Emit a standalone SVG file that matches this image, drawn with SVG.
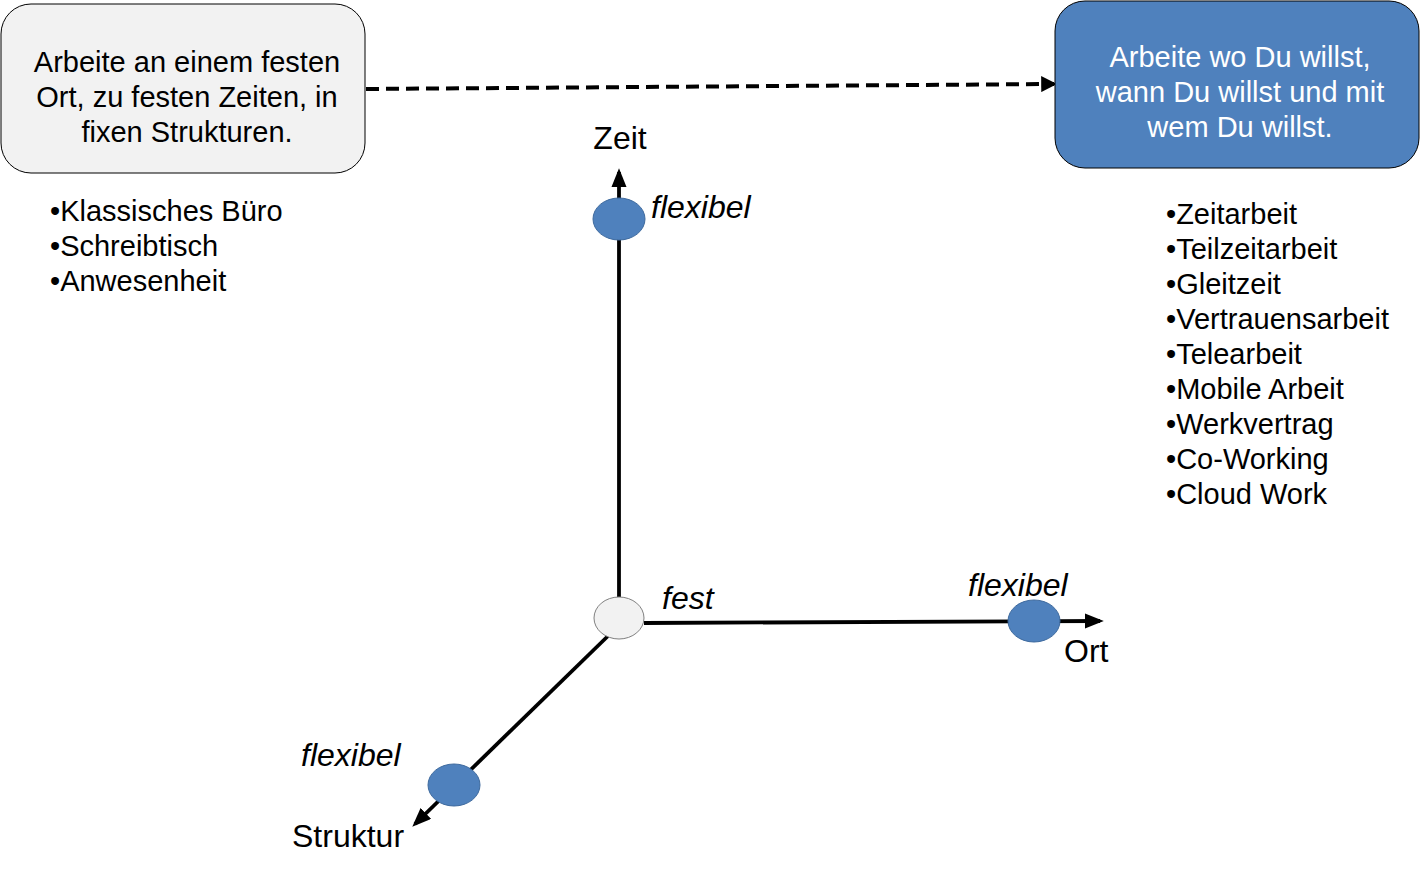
<svg xmlns="http://www.w3.org/2000/svg" width="1420" height="875" viewBox="0 0 1420 875">
<defs>
<marker id="ah" markerWidth="4" markerHeight="4" refX="3.2" refY="2" orient="auto" markerUnits="strokeWidth"><path d="M0,0 L4,2 L0,4 Z" fill="#000"/></marker>
<marker id="ah2" markerWidth="5" markerHeight="4" refX="4" refY="2" orient="auto" markerUnits="strokeWidth"><path d="M0,0 L5,2 L0,4 Z" fill="#000"/></marker>
<style>
text{font-family:"Liberation Sans",Arial,sans-serif;font-size:29px;fill:#000}
.c{text-anchor:middle}
.w{fill:#fff}
.i{font-style:italic}
.l{font-size:32px}
.dot{fill:#4f81bd;stroke:#3e6a9e;stroke-width:1}
.ax{stroke:#000;stroke-width:3.8;fill:none}
</style>
</defs>
<rect width="1420" height="875" fill="#fff"/>
<g id="connectors">
<path d="M366,89 L1054,84" stroke="#000" stroke-width="4" stroke-dasharray="13,7" fill="none" marker-end="url(#ah)"/>
<path class="ax" d="M619,597 L619,172" marker-end="url(#ah2)"/>
<path class="ax" d="M644,623 L1100,621" marker-end="url(#ah2)"/>
<path class="ax" d="M608,636 L415,824" marker-end="url(#ah2)"/>
</g>
<g id="box-fest">
<rect x="1" y="4" width="364" height="169" rx="30" fill="#f2f2f2" stroke="#000" stroke-width="1"/>
<text class="c" x="187" y="72">Arbeite an einem festen</text>
<text class="c" x="187" y="107">Ort, zu festen Zeiten, in</text>
<text class="c" x="187" y="142">fixen Strukturen.</text>
</g>
<g id="list-fest">
<text x="50" y="221">•Klassisches Büro</text>
<text x="50" y="256">•Schreibtisch</text>
<text x="50" y="291">•Anwesenheit</text>
</g>
<g id="box-flex">
<rect x="1055" y="1" width="364" height="167" rx="30" fill="#4f81bd" stroke="#000" stroke-width="1"/>
<text class="c w" x="1240" y="67">Arbeite wo Du willst,</text>
<text class="c w" x="1240" y="102">wann Du willst und mit</text>
<text class="c w" x="1240" y="137">wem Du willst.</text>
</g>
<g id="list-flex">
<text x="1166" y="224">•Zeitarbeit</text>
<text x="1166" y="259">•Teilzeitarbeit</text>
<text x="1166" y="294">•Gleitzeit</text>
<text x="1166" y="329">•Vertrauensarbeit</text>
<text x="1166" y="364">•Telearbeit</text>
<text x="1166" y="399">•Mobile Arbeit</text>
<text x="1166" y="434">•Werkvertrag</text>
<text x="1166" y="469">•Co-Working</text>
<text x="1166" y="504">•Cloud Work</text>
</g>
<g id="origin">
<ellipse cx="619" cy="618" rx="25" ry="21" fill="#f2f2f2" stroke="#808080" stroke-width="1"/>
<text class="i l" x="662" y="609">fest</text>
</g>
<g id="zeit">
<ellipse class="dot" cx="619" cy="219" rx="26" ry="21"/>
<text class="i l" x="651" y="218">flexibel</text>
<text class="c l" x="620" y="149">Zeit</text>
</g>
<g id="ort">
<ellipse class="dot" cx="1034" cy="621" rx="26" ry="21"/>
<text class="i l" x="968" y="596">flexibel</text>
<text class="l" x="1064" y="662">Ort</text>
</g>
<g id="struktur">
<ellipse class="dot" cx="454" cy="785" rx="26" ry="21"/>
<text class="i l" x="301" y="766">flexibel</text>
<text class="l" x="292" y="847">Struktur</text>
</g>
</svg>
